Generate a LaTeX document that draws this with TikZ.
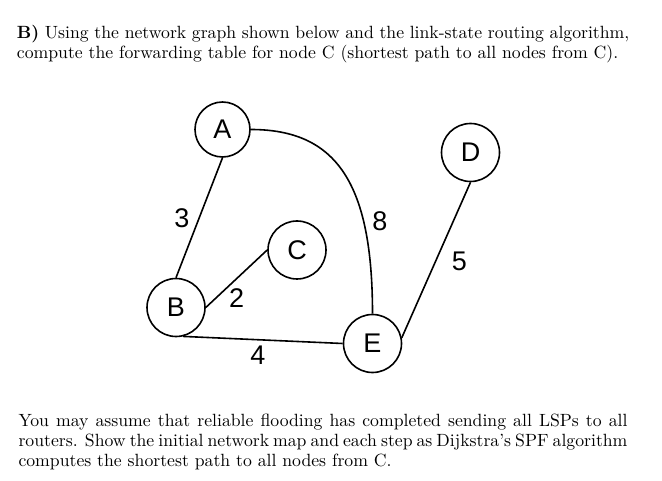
\documentclass[tikz,border=0pt]{standalone}
\usepackage{fontspec}
\setmainfont{lmroman10}[Extension=.otf, UprightFont=*-regular, BoldFont=*-bold, ItalicFont=*-italic]
\newfontfamily\graphfont{Liberation Sans}
\tikzset{
  router/.style={draw, circle, line width=1.6pt, inner sep=0pt, minimum size=58pt, font=\graphfont\fontsize{27}{27}\selectfont},
  link/.style={line width=1.6pt},
  cost/.style={inner sep=0pt, font=\graphfont\fontsize{27}{27}\selectfont},
  para/.style={inner sep=0pt, anchor=base west, align=justify, font=\fontsize{17.7}{20}\selectfont}
}
\begin{document}
\begin{tikzpicture}[x=1pt,y=-1pt]
\useasboundingbox (0,0) rectangle (662,481);
\node[para, text width=612.5pt] (q1) at (16.7,38.3) {\textbf{B)} Using the network graph shown below and the link-state routing algorithm,\linebreak compute the forwarding table for node C (shortest path to all nodes from C).};
\node[para, text width=609pt] (q2) at (18.3,426.7) {You may assume that reliable flooding has completed sending all LSPs to all\linebreak routers. Show the initial network map and each step as Dijkstra's SPF algorithm\linebreak computes the shortest path to all nodes from C.};
\node[router, minimum size=55pt] (A) at (222.5,129.5) {A};
\node[router] (B) at (176,307.5) {B};
\node[router] (C) at (297,250) {C};
\node[router] (D) at (470.5,152.5) {D};
\node[router] (E) at (372.5,343.5) {E};
\draw[link] (A.south) -- (B.north);
\draw[link] (B.east) -- (C.west);
\draw[link] (B.-76) -- (E.west);
\draw[link] (A.east) .. controls +(86,0) and +(0,-130) .. (E.north);
\draw[link] (E.11) -- (D.south);
\node[cost] (c3) at (182,218.5) {3};
\node[cost] (c2) at (236.7,298.3) {2};
\node[cost] (c4) at (258,355) {4};
\node[cost] (c8) at (380,221.7) {8};
\node[cost] (c5) at (459.3,261.7) {5};
\end{tikzpicture}
\end{document}
